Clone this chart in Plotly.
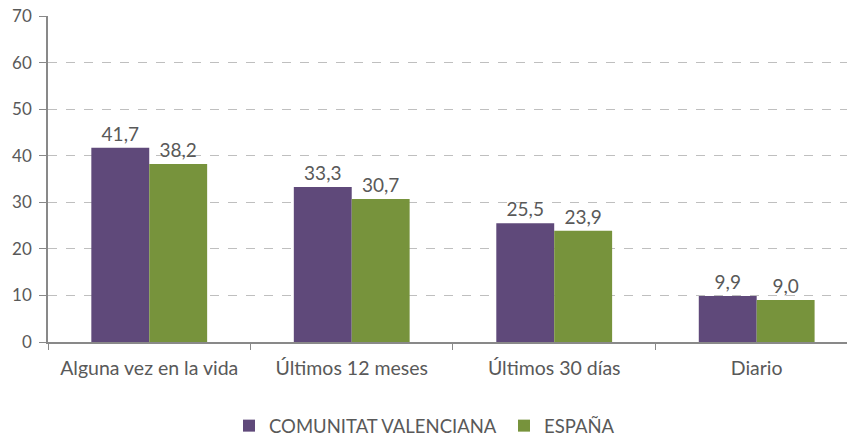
import plotly.graph_objects as go

categories = ["Alguna vez en la vida", "Últimos 12 meses", "Últimos 30 días", "Diario"]
series_names = ["COMUNITAT VALENCIANA", "ESPAÑA"]
valencia = [41.7, 33.3, 25.5, 9.9]
espana = [38.2, 30.7, 23.9, 9.0]
colors = ["#5f497a", "#77933c"]
y_ticks = [0, 10, 20, 30, 40, 50, 60, 70]

FONT = "Lato"
GREY = "#595959"

fig = go.Figure()
for name, vals, col in zip(series_names, [valencia, espana], colors):
    fig.add_trace(go.Bar(
        x=categories, y=vals, name=name,
        marker=dict(color=col, line=dict(width=0)),
        text=[f"{v:.1f}".replace(".", ",") for v in vals],
        textposition="outside", cliponaxis=False,
        textfont=dict(family=FONT, size=19, color=GREY),
    ))

fig.update_layout(
    width=847, height=439,
    margin=dict(l=48, r=0, t=16, b=97, autoexpand=False),
    paper_bgcolor="white", plot_bgcolor="white",
    barmode="group", bargap=0.428, bargroupgap=0,
    font=dict(family=FONT, size=17, color=GREY),
    showlegend=True,
    legend=dict(orientation="h", x=(243 - 48 - 14) / 799, xanchor="left", y=-0.258, yanchor="middle",
                font=dict(family=FONT, size=18.5, color=GREY), itemwidth=30,
                entrywidth=230, traceorder="normal"),
    xaxis=dict(range=[-0.5, 3.446], showline=True, linecolor="#898989", linewidth=1.5,
               ticks="outside", tickson="boundaries", ticklen=6, tickcolor="#898989",
               automargin=False, ticklabelstandoff=8,
               tickfont=dict(family=FONT, size=19.5, color=GREY), showgrid=False),
    yaxis=dict(range=[0, 70], tickvals=y_ticks, showline=True, linecolor="#898989", linewidth=1.5,
               ticks="outside", ticklen=7, tickcolor="#898989", automargin=False,
               ticklabelstandoff=4,
               showgrid=True, gridcolor="#bfbfbf", griddash="dash", gridwidth=1,
               zeroline=False,
               tickfont=dict(family=FONT, size=17, color=GREY)),
)

fig.write_html("out.html", config={"displayModeBar": False},
               post_script="document.body.style.margin='0';")
